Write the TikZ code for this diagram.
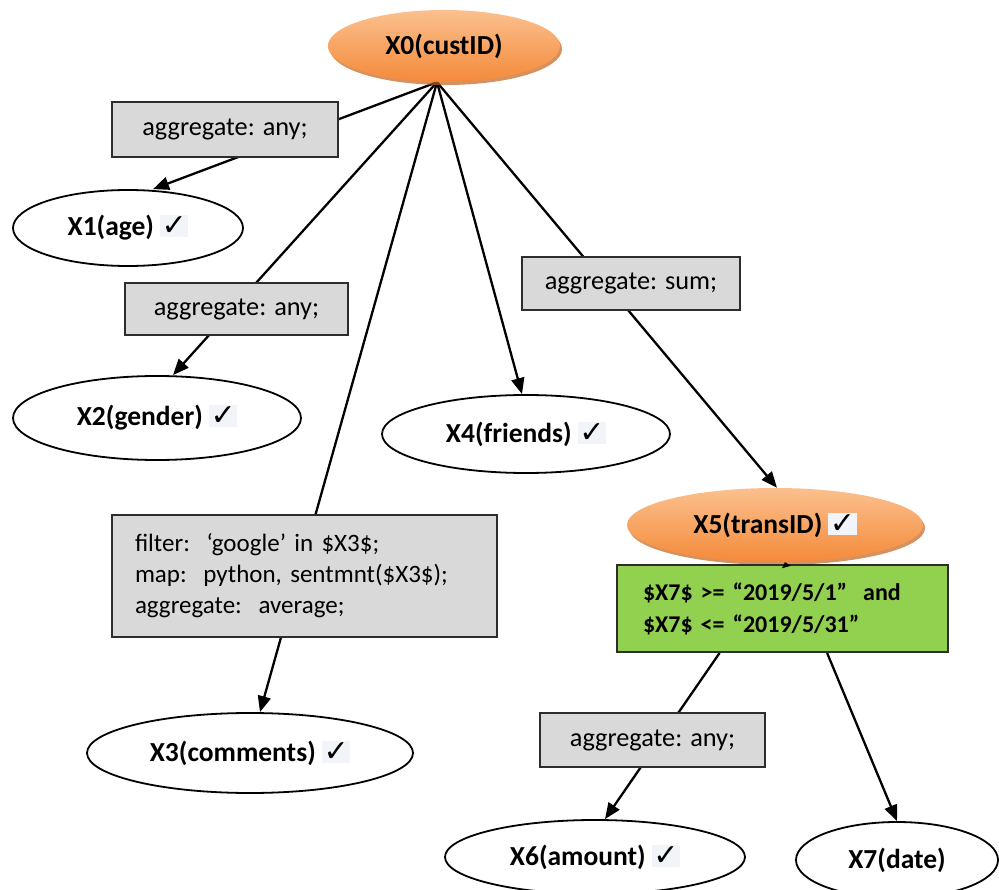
\documentclass[tikz,border=0pt]{standalone}
\usepackage{fontspec}
\setmainfont{Carlito}
\newfontfamily\symfont{DejaVu Sans}
\usetikzlibrary{shapes.geometric, arrows.meta, shadows, backgrounds, calc}

\definecolor{boxgray}{RGB}{217,217,217}
\definecolor{boxline}{RGB}{45,45,45}
\definecolor{filtergreen}{RGB}{146,208,80}
\definecolor{orangetop}{RGB}{251,192,142}
\definecolor{orangebot}{RGB}{244,138,58}
\definecolor{orangeshade}{RGB}{196,98,28}
\definecolor{tickbg}{RGB}{241,244,249}

% check mark on a faint tinted background
\newcommand\okmark{{\setlength{\fboxsep}{1.5pt}\colorbox{tickbg}{\fontsize{30}{30}\selectfont\symfont ✓}}}

\begin{document}
\begin{tikzpicture}[x=1pt, y=-1pt,
  leaf/.style={ellipse, draw=black, line width=1.8pt, fill=white, inner sep=0pt,
    font=\fontsize{27.5}{32}\selectfont\bfseries},
  keynode/.style={ellipse, draw=none, inner sep=0pt,
    top color=orangetop, bottom color=orangebot,
    drop shadow={shadow xshift=2pt, shadow yshift=-3pt, fill=orangeshade, opacity=0.7},
    font=\fontsize{27.5}{32}\selectfont\bfseries},
  opbox/.style={rectangle, draw=boxline, line width=2pt, fill=boxgray, inner sep=0pt,
    font=\fontsize{26.3}{31}\selectfont},
  edge/.style={line width=2.3pt, -{Triangle[length=16pt,width=13pt]}},
  hint/.style={line width=1pt, -{Triangle[length=5pt,width=9pt]}}
]
\useasboundingbox (0,0) rectangle (999,890);
\clip (0,0) rectangle (999,890);

% key nodes
\node[keynode, minimum width=232, minimum height=72] (X0) at (444,46) {X0(custID)};
\node[keynode, minimum width=296, minimum height=74] (X5) at (775,525) {X5(transID) \okmark};

% attribute nodes
\node[leaf, minimum width=230, minimum height=76] (X1) at (128,228) {X1(age) \okmark};
\node[leaf, minimum width=288, minimum height=84] (X2) at (157,418) {X2(gender) \okmark};
\node[leaf, minimum width=326, minimum height=80] (X3) at (250,753) {X3(comments) \okmark};
\node[leaf, minimum width=288, minimum height=78] (X4) at (526,434) {X4(friends) \okmark};
\node[leaf, minimum width=300, minimum height=74] (X6) at (595,857) {X6(amount) \okmark};
\node[leaf, minimum width=202, minimum height=76] (X7) at (897,860) {X7(date)};

% operation boxes
\node[opbox, minimum width=226, minimum height=55] (A1) at (225,129.5) {aggregate: any;};
\node[opbox, minimum width=223, minimum height=52] (A2) at (236.5,309) {aggregate: any;};
\node[opbox, minimum width=385, minimum height=122, text width=339, align=left,
  font=\fontsize{25}{31}\selectfont] (F3) at (304.5,576)
  {filter:\ \ ‘google’ in \$X3\$;\\map:\ \ python, sentmnt(\$X3\$);\\aggregate:\ \ average;};
\node[opbox, minimum width=218, minimum height=53] (A5) at (631,283.5) {aggregate: sum;};
\node[opbox, fill=filtergreen, minimum width=331, minimum height=87, text width=279, align=left,
  font=\fontsize{24}{32}\selectfont\bfseries] (G) at (782.5,608.5)
  {\$X7\$ >= “2019/5/1”\ \ and\\\$X7\$ <= “2019/5/31”};
\node[opbox, minimum width=225, minimum height=54] (A6) at (652.5,740) {aggregate: any;};

% connector start points
\coordinate (hub) at ($(X0.south)+(-7,0)$);
\coordinate (g6) at ($(G.south west)!0.311!(G.south east)$);
\coordinate (g7) at ($(G.south west)!0.634!(G.south east)$);

\begin{scope}[on background layer]
  \draw[edge] (hub) -- ([xshift=25pt]X1.north);
  \draw[edge] (hub) -- ([xshift=16pt]X2.north);
  \draw[edge] (hub) -- ([xshift=10pt]X3.north);
  \draw[edge] (hub) -- ([xshift=-4pt]X4.north);
  \draw[edge] (hub) -- ([xshift=2pt]X5.north);
  \draw[edge] (g6) -- ([xshift=10pt]X6.north);
  \draw[edge] (g7) -- (X7.north);
\end{scope}

\draw[hint] ([xshift=3pt]G.north) -- ([xshift=10pt]X5.south);
\end{tikzpicture}
\end{document}
